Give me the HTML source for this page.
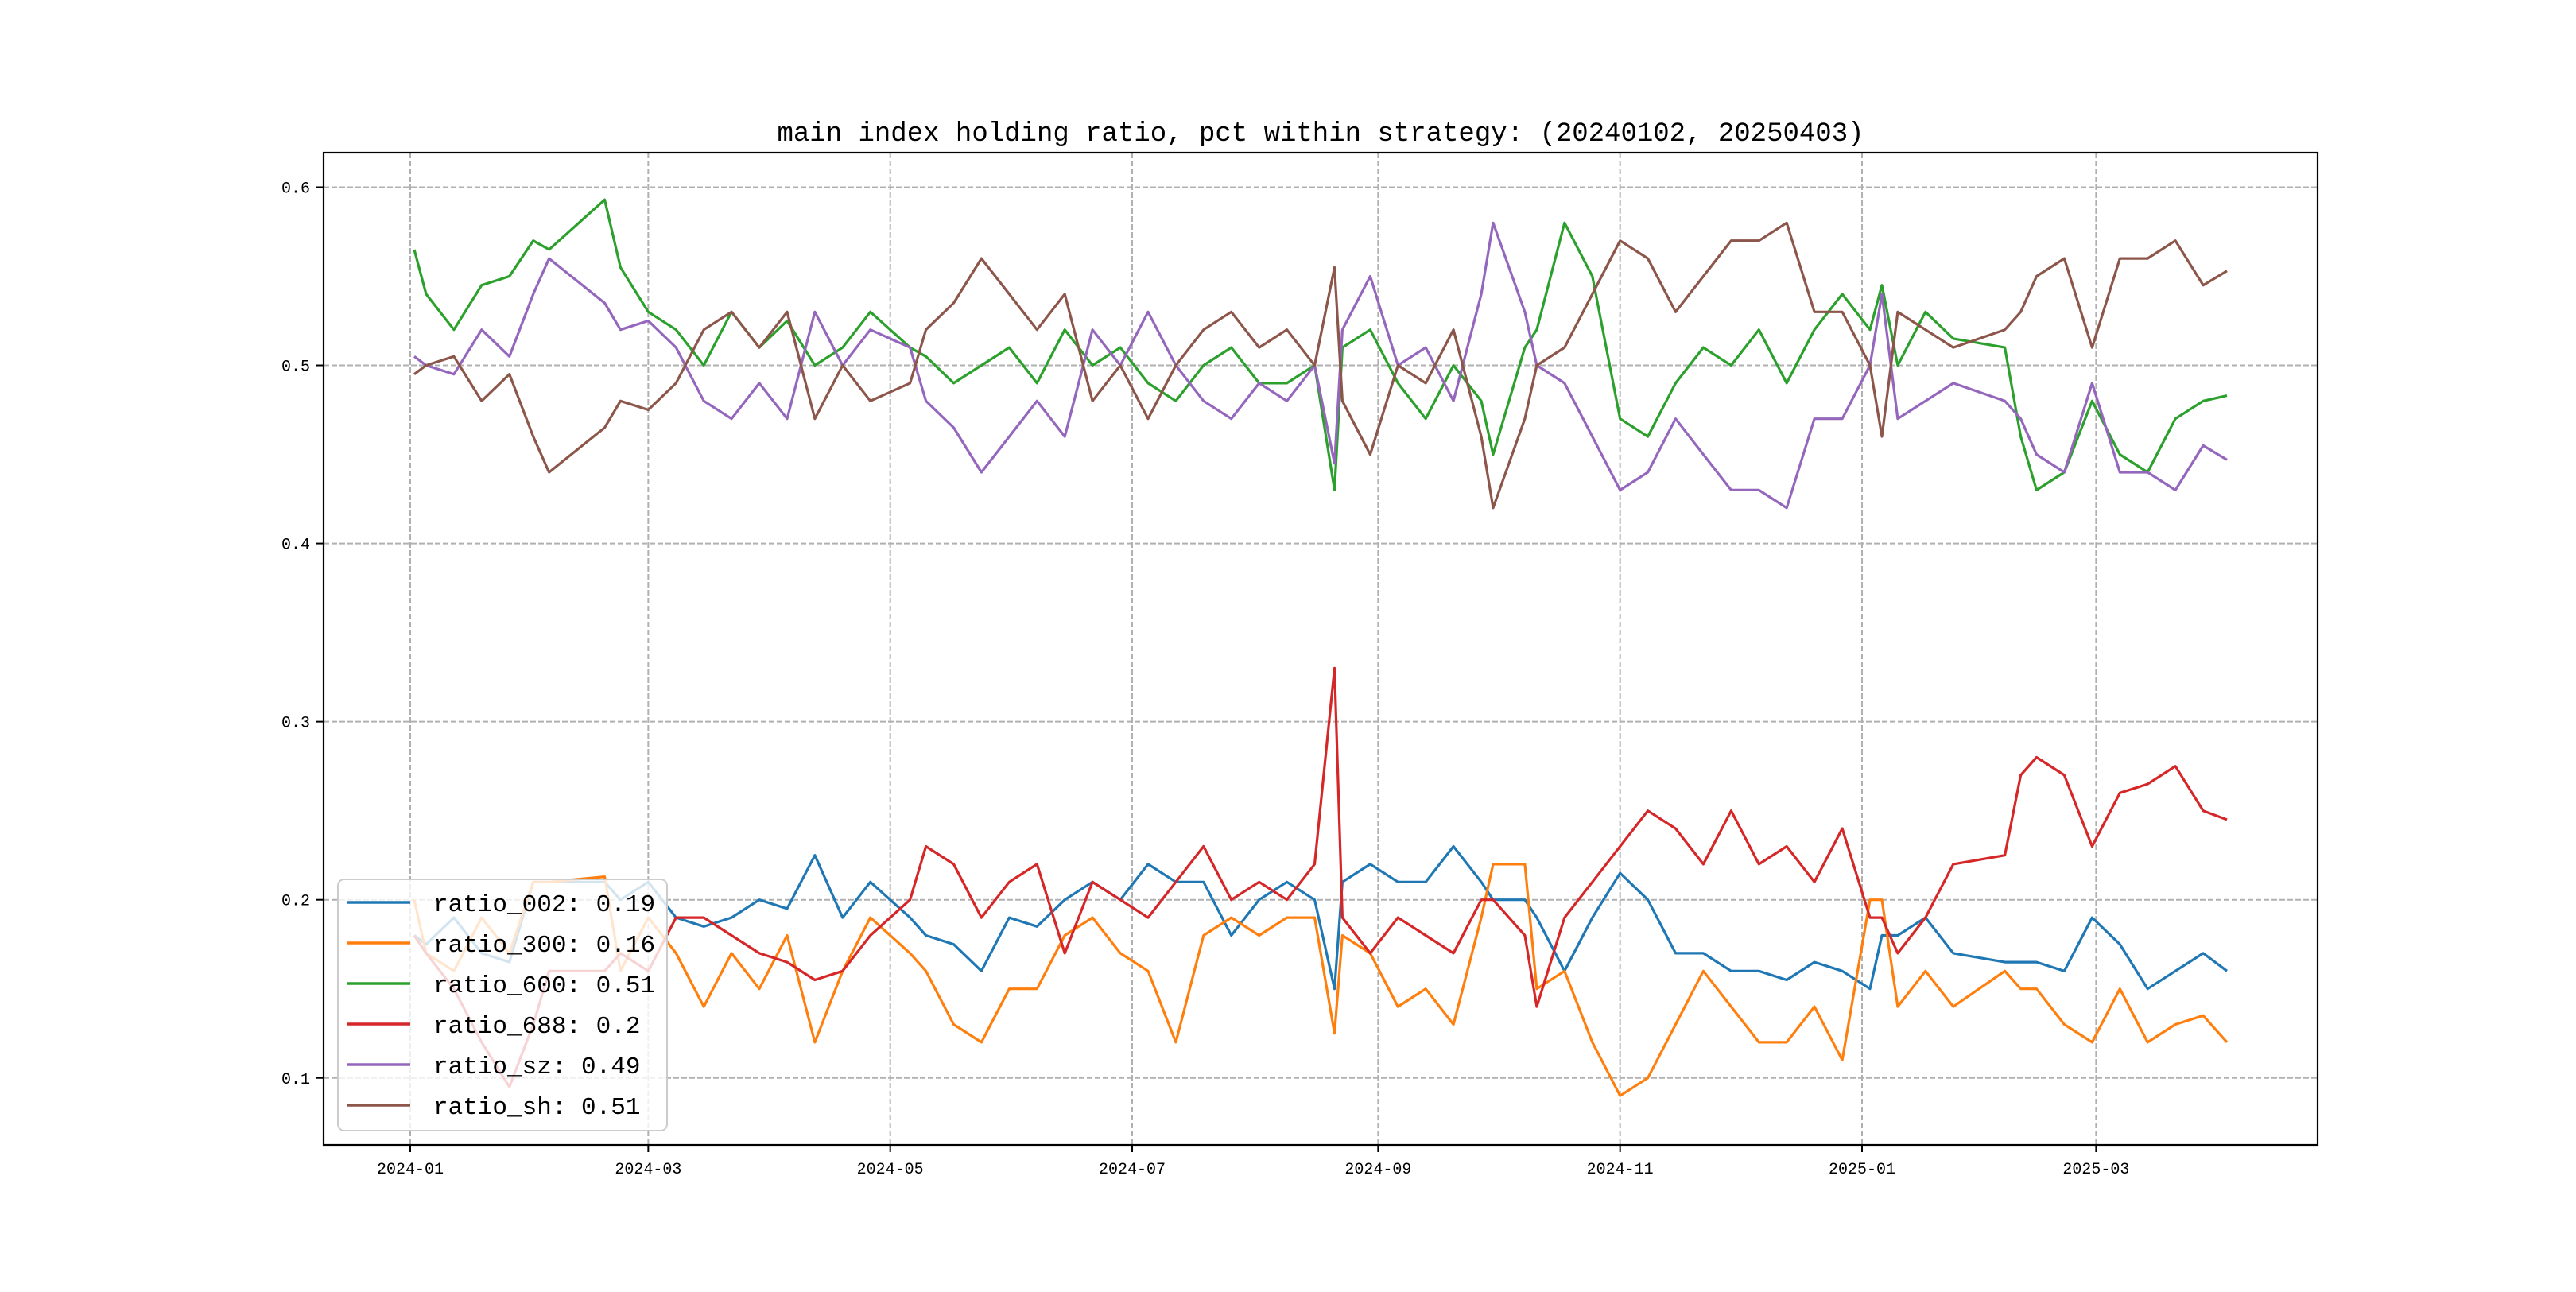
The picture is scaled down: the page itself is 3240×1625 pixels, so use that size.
<!DOCTYPE html>
<html><head><meta charset="utf-8"><style>
html,body{margin:0;padding:0;background:#fff;}
svg text{font-family:"Liberation Mono","DejaVu Sans Mono",monospace;}
</style></head><body>
<svg id="chart" width="3240" height="1620" xmlns="http://www.w3.org/2000/svg">
<rect width="3240" height="1620" fill="#fff"/>
<text x="1661" y="177" font-size="34" text-anchor="middle">main index holding ratio, pct within strategy: (20240102, 20250403)</text>
<g id="grid"></g><g id="series"></g><g id="axes"></g><g id="legend"></g>
</svg>
<script>
const dates=["2024-01-02","2024-01-05","2024-01-12","2024-01-19","2024-01-26","2024-02-01","2024-02-05","2024-02-19","2024-02-23","2024-03-01","2024-03-08","2024-03-15","2024-03-22","2024-03-29","2024-04-05","2024-04-12","2024-04-19","2024-04-26","2024-05-06","2024-05-10","2024-05-17","2024-05-24","2024-05-31","2024-06-07","2024-06-14","2024-06-21","2024-06-28","2024-07-05","2024-07-12","2024-07-19","2024-07-26","2024-08-02","2024-08-09","2024-08-16","2024-08-21","2024-08-23","2024-08-30","2024-09-06","2024-09-13","2024-09-20","2024-09-27","2024-09-30","2024-10-08","2024-10-11","2024-10-18","2024-10-25","2024-11-01","2024-11-08","2024-11-15","2024-11-22","2024-11-29","2024-12-06","2024-12-13","2024-12-20","2024-12-27","2025-01-03","2025-01-06","2025-01-10","2025-01-17","2025-01-24","2025-02-06","2025-02-10","2025-02-14","2025-02-21","2025-02-28","2025-03-07","2025-03-14","2025-03-21","2025-03-28","2025-04-03"];
const ratio002=[0.18,0.175,0.19,0.17,0.165,0.21,0.21,0.21,0.20,0.21,0.19,0.185,0.19,0.20,0.195,0.225,0.19,0.21,0.19,0.18,0.175,0.16,0.19,0.185,0.20,0.21,0.20,0.22,0.21,0.21,0.18,0.20,0.21,0.20,0.15,0.21,0.22,0.21,0.21,0.23,0.21,0.20,0.20,0.19,0.16,0.19,0.215,0.20,0.17,0.17,0.16,0.16,0.155,0.165,0.16,0.15,0.18,0.18,0.19,0.17,0.165,0.165,0.165,0.16,0.19,0.175,0.15,0.16,0.17,0.16];
const ratio300=[0.20,0.17,0.16,0.19,0.17,0.21,0.21,0.213,0.16,0.19,0.17,0.14,0.17,0.15,0.18,0.12,0.16,0.19,0.17,0.16,0.13,0.12,0.15,0.15,0.18,0.19,0.17,0.16,0.12,0.18,0.19,0.18,0.19,0.19,0.125,0.18,0.17,0.14,0.15,0.13,0.19,0.22,0.22,0.15,0.16,0.12,0.09,0.10,0.13,0.16,0.14,0.12,0.12,0.14,0.11,0.20,0.20,0.14,0.16,0.14,0.16,0.15,0.15,0.13,0.12,0.15,0.12,0.13,0.135,0.12];
const ratio600=[0.565,0.54,0.52,0.545,0.55,0.57,0.565,0.593,0.555,0.53,0.52,0.50,0.53,0.51,0.525,0.50,0.51,0.53,0.51,0.505,0.49,0.50,0.51,0.49,0.52,0.50,0.51,0.49,0.48,0.50,0.51,0.49,0.49,0.50,0.43,0.51,0.52,0.49,0.47,0.50,0.48,0.45,0.51,0.52,0.58,0.55,0.47,0.46,0.49,0.51,0.50,0.52,0.49,0.52,0.54,0.52,0.545,0.50,0.53,0.515,0.51,0.46,0.43,0.44,0.48,0.45,0.44,0.47,0.48,0.483];
const ratio688=[0.18,0.17,0.15,0.12,0.095,0.13,0.16,0.16,0.17,0.16,0.19,0.19,0.18,0.17,0.165,0.155,0.16,0.18,0.20,0.23,0.22,0.19,0.21,0.22,0.17,0.21,0.20,0.19,0.21,0.23,0.20,0.21,0.20,0.22,0.33,0.19,0.17,0.19,0.18,0.17,0.20,0.20,0.18,0.14,0.19,0.21,0.23,0.25,0.24,0.22,0.25,0.22,0.23,0.21,0.24,0.19,0.19,0.17,0.19,0.22,0.225,0.27,0.28,0.27,0.23,0.26,0.265,0.275,0.25,0.245];
const ratioSz=[0.505,0.50,0.495,0.52,0.505,0.54,0.56,0.535,0.52,0.525,0.51,0.48,0.47,0.49,0.47,0.53,0.50,0.52,0.51,0.48,0.465,0.44,0.46,0.48,0.46,0.52,0.50,0.53,0.50,0.48,0.47,0.49,0.48,0.50,0.445,0.52,0.55,0.50,0.51,0.48,0.54,0.58,0.53,0.50,0.49,0.46,0.43,0.44,0.47,0.45,0.43,0.43,0.42,0.47,0.47,0.50,0.54,0.47,0.48,0.49,0.48,0.47,0.45,0.44,0.49,0.44,0.44,0.43,0.455,0.447];
const ratioSh=[0.495,0.50,0.505,0.48,0.495,0.46,0.44,0.465,0.48,0.475,0.49,0.52,0.53,0.51,0.53,0.47,0.50,0.48,0.49,0.52,0.535,0.56,0.54,0.52,0.54,0.48,0.50,0.47,0.50,0.52,0.53,0.51,0.52,0.50,0.555,0.48,0.45,0.50,0.49,0.52,0.46,0.42,0.47,0.50,0.51,0.54,0.57,0.56,0.53,0.55,0.57,0.57,0.58,0.53,0.53,0.50,0.46,0.53,0.52,0.51,0.52,0.53,0.55,0.56,0.51,0.56,0.56,0.57,0.545,0.553];
const seriesNames=["ratio_002","ratio_300","ratio_600","ratio_688","ratio_sz","ratio_sh"];
const legendValues=["0.19","0.16","0.51","0.2","0.49","0.51"];
const yTicks=[0.1,0.2,0.3,0.4,0.5,0.6];
const xTicks=["2024-01","2024-03","2024-05","2024-07","2024-09","2024-11","2025-01","2025-03"];

const L=407,R=2915,T=192,B=1440;
const colors=["#1f77b4","#ff7f0e","#2ca02c","#d62728","#9467bd","#8c564b"];
const all=[ratio002,ratio300,ratio600,ratio688,ratioSz,ratioSh];
const day0=Date.UTC(2024,0,1);
function dayOf(s){const p=s.split('-').map(Number);return (Date.UTC(p[0],p[1]-1,p[2]||1)-day0)/864e5;}
const d0=dayOf(dates[0]),d1=dayOf(dates[dates.length-1]),dm=(d1-d0)*0.05;
function X(s){return L+(dayOf(s)-(d0-dm))/((d1+dm)-(d0-dm))*(R-L);}
const vMin=0.0624,vMax=0.6194;
function Y(v){return B-(v-vMin)/(vMax-vMin)*(B-T);}
const NS="http://www.w3.org/2000/svg";
function mk(tag,attrs,parent){const e=document.createElementNS(NS,tag);for(const k in attrs)e.setAttribute(k,attrs[k]);parent.appendChild(e);return e;}
const grid=document.getElementById('grid'),axes=document.getElementById('axes'),ser=document.getElementById('series'),leg=document.getElementById('legend');
yTicks.forEach(v=>{const y=Y(v);
 const g=mk('line',{x1:L,x2:R,y1:y,y2:y,stroke:'#b0b0b0','stroke-width':2,'stroke-dasharray':'7,3'},grid);
 
 
 const t=mk('line',{x1:L-9,x2:L,y1:y,y2:y,stroke:'#000','stroke-width':2},axes);
 
 
 const tx=mk('text',{x:L-17,y:y+7,'font-size':20,'text-anchor':'end'},axes);tx.textContent=v.toFixed(1);
 
 
});
xTicks.forEach(s=>{const x=X(s+"-01");
 const g=mk('line',{x1:x,x2:x,y1:T,y2:B,stroke:'#b0b0b0','stroke-width':2,'stroke-dasharray':'7,3'},grid);
 
 
 const t=mk('line',{x1:x,x2:x,y1:B,y2:B+9,stroke:'#000','stroke-width':2},axes);
 
 
 const tx=mk('text',{x:x,y:B+36,'font-size':20,'text-anchor':'middle'},axes);tx.textContent=s;
 
 
});
all.forEach((arr,i)=>{
 const pts=arr.map((v,j)=>X(dates[j]).toFixed(1)+','+Y(v).toFixed(1)).join(' ');
 const p=mk('polyline',{points:pts,fill:'none',stroke:colors[i],'stroke-width':3.2,'stroke-linejoin':'round'},ser);
 
 
});
const frame=mk('rect',{x:L,y:T,width:R-L,height:B-T,fill:'none',stroke:'#000','stroke-width':2.2},axes);


const box=mk('rect',{x:425,y:1106,width:414,height:316,rx:8,fill:'#fff','fill-opacity':0.8,stroke:'#cccccc','stroke-width':2},leg);


seriesNames.forEach((n,i)=>{const y=1135+i*51;
 const ln=mk('line',{x1:437,x2:516,y1:y,y2:y,stroke:colors[i],'stroke-width':3.5},leg);
 
 
 const t=mk('text',{x:545,y:y+11,'font-size':31},leg);t.textContent=n+': '+legendValues[i];
 
 
});
</script>
</body></html>
